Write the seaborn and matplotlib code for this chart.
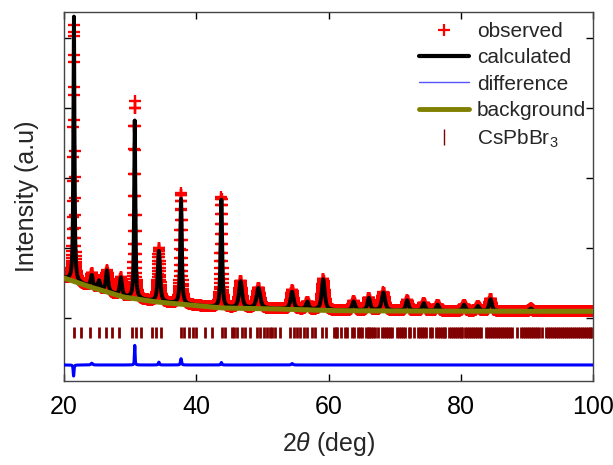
import numpy as np
import pandas as pd
import matplotlib
matplotlib.use("Agg")
import matplotlib.pyplot as plt
from matplotlib.lines import Line2D
import seaborn as sns

# ---------------- data ----------------
# Bragg peaks of the calculated pattern: position (deg), height above background, FWHM (deg)
peak_pos = [21.50, 24.2, 25.3, 26.5, 28.6, 30.70, 34.35, 37.70, 43.80, 46.7, 49.4,
            54.5, 56.8, 59.2, 63.8, 66.1, 68.3, 71.9, 74.4, 76.5, 80.5, 82.6, 84.5, 90.6]
peak_height = [3780, 170, 120, 300, 260, 2540, 730, 1500, 1540, 380, 290,
               250, 110, 440, 130, 180, 260, 150, 110, 90, 90, 70, 170, 40]
peak_fwhm = [0.2, 0.4, 0.4, 0.4, 0.4, 0.22, 0.4, 0.28, 0.28, 0.55, 0.65,
             0.55, 0.5, 0.55, 0.5, 0.5, 0.6, 0.5, 0.5, 0.5, 0.5, 0.5, 0.5, 0.5]

# background anchor points
bg_x = [20, 24, 29, 34, 39, 44, 52, 61, 70, 80, 90, 100]
bg_y = [571, 443, 300, 229, 186, 143, 129, 105, 100, 98, 96, 95]

# difference (observed - calculated) features: position, amplitude, width
diff_pos = [21.45, 30.70, 34.35, 37.70, 43.80, 24.2, 54.5]
diff_amp = [-160, 280, 40, 90, 35, 25, 20]
diff_w = [0.15, 0.12, 0.2, 0.2, 0.2, 0.3, 0.3]
diff_offset = -671

# CsPbBr3 reflection positions (deg)
hkl_pos = [21.52, 22.62, 23.94, 25.30, 26.41, 27.32, 28.33, 30.35, 30.86, 31.62,
           33.38, 33.89, 34.65, 37.68, 38.18, 38.94, 39.44, 39.95,
           41.36, 42.38, 43.89, 44.39, 45.41, 45.65, 46.17, 46.92, 47.42, 48.18,
           49.2, 49.7, 50.2, 50.7, 51.2, 51.47, 51.97, 52.73, 54.24, 54.74, 55.26,
           55.76, 56.26, 56.77, 57.53, 58.03, 59.05, 59.55, 60.8, 61.06,
           61.3, 61.9, 62.5, 62.8, 63.5, 63.8, 64.5, 64.8, 65.0, 65.6, 65.9, 66.2,
           66.5, 66.8, 67.0, 67.55, 68.1, 68.4, 68.7, 69.0, 69.3, 69.6, 70.3, 70.6,
           70.9, 71.2, 71.5, 72.1, 72.3, 72.9, 73.6, 73.9, 74.2, 74.5, 74.8, 75.4,
           75.6, 76.2, 76.5, 76.8, 77.1, 77.4, 77.6, 78.2, 78.5, 78.8, 79.1, 79.4,
           79.7, 80.0, 80.2, 80.7, 81.0, 81.3, 81.6, 81.9, 82.2, 82.5, 82.8, 83.1,
           83.8, 84.1, 84.4, 84.7, 85.0, 85.3, 85.6, 85.9, 86.2, 86.5, 86.8, 87.1,
           87.4, 87.7, 88.45, 89.1, 89.4, 89.7, 90.0, 90.3, 90.6, 90.9, 91.2, 91.5,
           91.8, 92.35, 92.9, 93.2, 93.5, 93.8, 94.1, 94.4, 94.7, 95.0, 95.3, 95.6,
           95.9, 96.2, 96.5, 96.8, 97.1, 97.4, 97.7, 98.0, 98.3, 98.6, 98.9, 99.2,
           99.5, 99.7]
hkl_ymin, hkl_ymax = -290, -125

x_ticks = [20, 40, 60, 80, 100]
y_ticks = [0, 1000, 2000, 3000, 4000]

# ---------------- profile construction ----------------
two_theta = np.arange(20.0, 100.0001, 0.02)


def pv(x, c, h, w, eta=0.75):
    g = np.exp(-4 * np.log(2) * ((x - c) / w) ** 2)
    l = 1.0 / (1.0 + 4 * ((x - c) / w) ** 2)
    return h * (eta * l + (1 - eta) * g)


bg = np.interp(two_theta, bg_x, bg_y)
calc = bg.copy()
for c, h, w in zip(peak_pos, peak_height, peak_fwhm):
    calc += pv(two_theta, c, h, w)
diff = np.zeros_like(two_theta)
for c, a, w in zip(diff_pos, diff_amp, diff_w):
    diff += pv(two_theta, c, a, w, eta=0.5)
obs = calc + diff

df = pd.DataFrame({"tt": two_theta, "obs": obs, "calc": calc,
                   "diff": diff + diff_offset})
dfbg = pd.DataFrame({"tt": bg_x, "bg": bg_y})

# ---------------- plotting ----------------
sns.set_style("ticks")
plt.rcParams["font.family"] = ["Liberation Sans", "DejaVu Sans"]
plt.rcParams["mathtext.fontset"] = "custom"
plt.rcParams["mathtext.rm"] = "Liberation Sans"
plt.rcParams["mathtext.it"] = "Liberation Sans:italic"

fig = plt.figure(figsize=(6.13, 4.65), dpi=100)
ax = fig.add_axes([64 / 613, 1 - 381 / 465, (593 - 64) / 613, (381 - 12) / 465])

sns.scatterplot(data=df, x="tt", y="obs", ax=ax, marker="+", color="red",
                s=85, linewidth=1.7, legend=False, zorder=2)
sns.lineplot(data=df, x="tt", y="calc", ax=ax, color="black", lw=2.8,
             estimator=None, sort=False, legend=False, zorder=3)
sns.lineplot(data=dfbg, x="tt", y="bg", ax=ax, color="#808000", lw=3.6,
             estimator=None, sort=False, legend=False, zorder=4)
sns.lineplot(data=df, x="tt", y="diff", ax=ax, color="#0000ff", lw=2.2,
             estimator=None, sort=False, legend=False, zorder=3)
ax.vlines(hkl_pos, hkl_ymin, hkl_ymax, color="#800000", lw=2.0, zorder=3)

ax.set_xlim(20, 100)
ax.set_ylim(-900, 4371)
ax.set_xticks(x_ticks)
ax.set_yticks(y_ticks)
ax.set_yticklabels([])
ax.tick_params(direction="in", length=5, width=1, top=True, right=True,
               labelsize=18, pad=10, colors="black")
for sp in ax.spines.values():
    sp.set_color("#444444")
    sp.set_linewidth(1.0)

ax.set_xlabel(r"2$\theta$ (deg)", fontsize=18, labelpad=8)
ax.set_ylabel("Intensity (a.u)", fontsize=18, labelpad=8)

handles = [
    Line2D([], [], marker="+", color="red", ls="none", markersize=9, mew=1.6),
    Line2D([], [], color="black", lw=3),
    Line2D([], [], color="#5555ff", lw=1),
    Line2D([], [], color="#808000", lw=3.5),
    Line2D([], [], marker="|", color="#800000", ls="none", markersize=12, mew=1),
]
labels = ["observed", "calculated", "difference", "background", "CsPbBr$_3$"]
ax.legend(handles, labels, loc="upper right", frameon=False, fontsize=15,
          handlelength=2.4, handletextpad=0.4, labelspacing=0.35,
          borderaxespad=0.0, bbox_to_anchor=(1.003, 0.995))

fig.savefig("out.png", dpi=100)
